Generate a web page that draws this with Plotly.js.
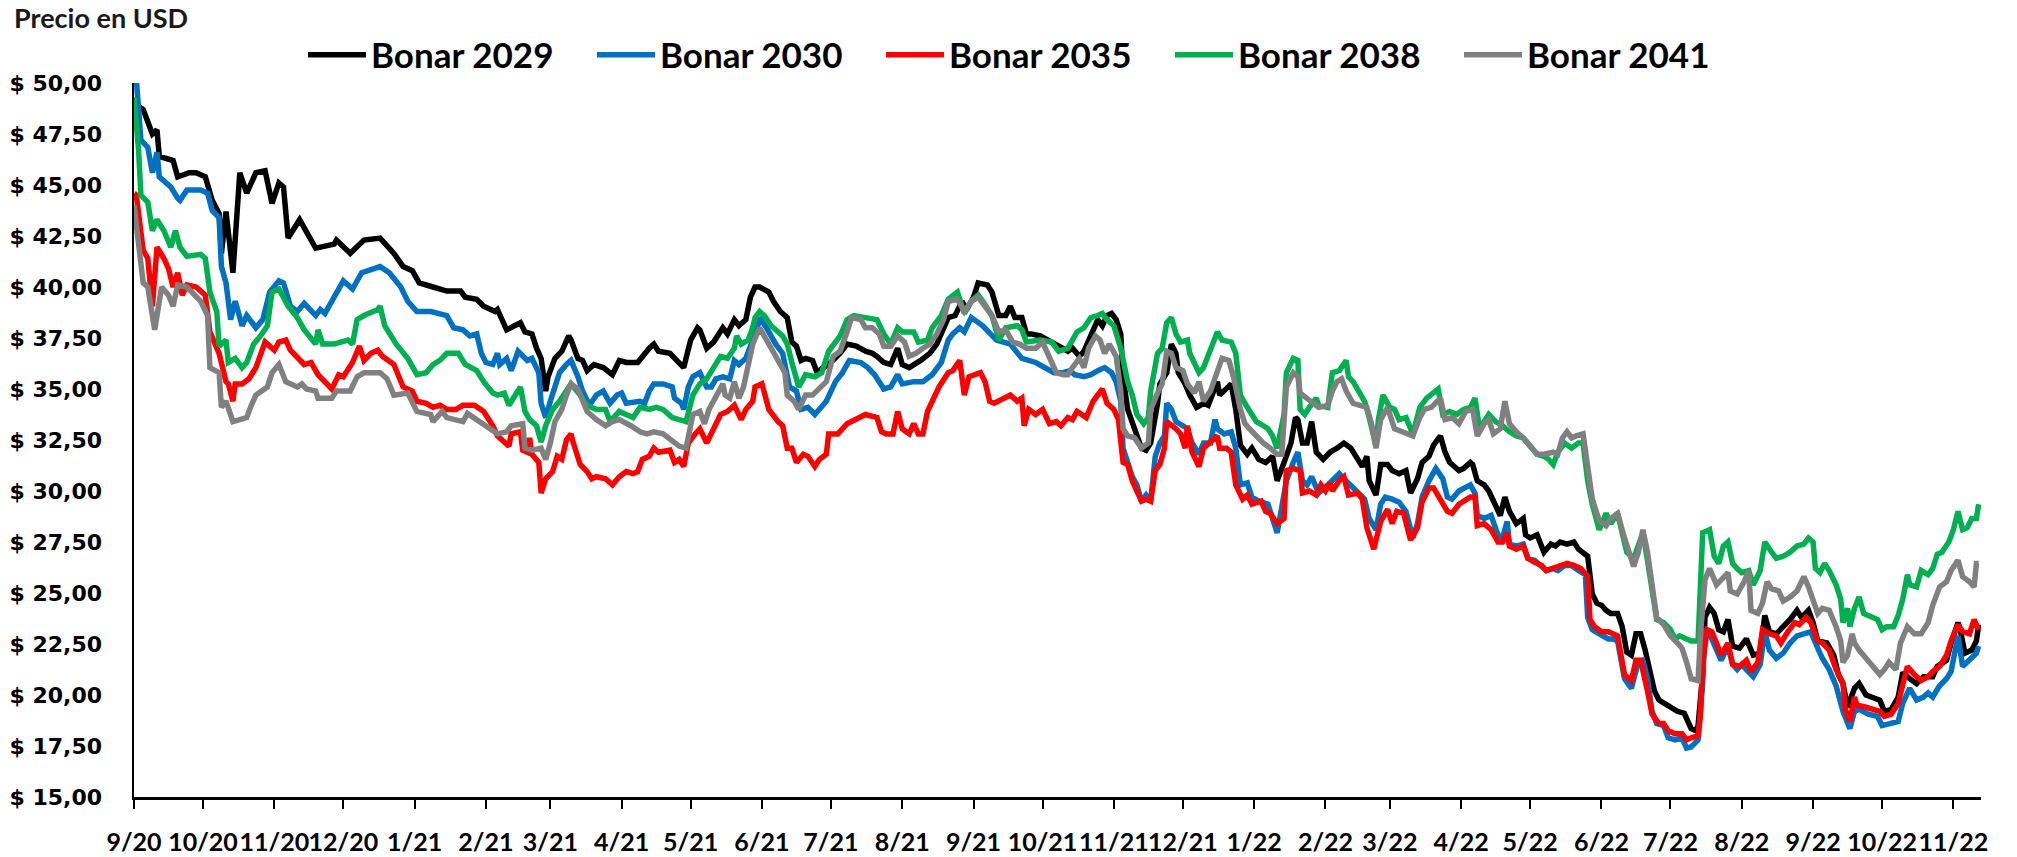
<!DOCTYPE html>
<html>
<head>
<meta charset="utf-8">
<script src="https://cdn.plot.ly/plotly-3.0.1.min.js"></script>
<style>
html,body{margin:0;padding:0;background:#ffffff;}
#chart{width:2017px;height:857px;}
</style>
</head>
<body>
<div id="chart"></div>
<script>
// ---------------- DATA ----------------
const nombres = ['Bonar 2029', 'Bonar 2030', 'Bonar 2035', 'Bonar 2038', 'Bonar 2041'];

const fechas2029 = ['2020-09-01','2020-09-05','2020-09-09','2020-09-11','2020-09-12','2020-09-18','2020-09-20','2020-09-25','2020-09-28','2020-10-02','2020-10-05','2020-10-08','2020-10-09','2020-10-11','2020-10-14','2020-10-17','2020-10-20','2020-10-22','2020-10-24','2020-10-28','2020-10-31','2020-11-03','2020-11-05','2020-11-07','2020-11-12','2020-11-19','2020-11-27','2020-11-28','2020-12-04','2020-12-10','2020-12-17','2020-12-23','2020-12-27','2020-12-31','2021-01-03','2021-01-09','2021-01-15','2021-01-21','2021-01-23','2021-01-28','2021-01-31','2021-02-05','2021-02-06','2021-02-10','2021-02-13','2021-02-16','2021-02-18','2021-02-21','2021-02-23','2021-02-25','2021-02-27','2021-02-28','2021-03-03','2021-03-06','2021-03-09','2021-03-10','2021-03-13','2021-03-15','2021-03-17','2021-03-20','2021-03-24','2021-03-28','2021-03-31','2021-04-03','2021-04-08','2021-04-10','2021-04-13','2021-04-15','2021-04-17','2021-04-22','2021-04-25','2021-04-28','2021-05-01','2021-05-04','2021-05-05','2021-05-08','2021-05-11','2021-05-15','2021-05-17','2021-05-20','2021-05-22','2021-05-25','2021-05-27','2021-05-29','2021-05-31','2021-06-04','2021-06-06','2021-06-09','2021-06-12','2021-06-14','2021-06-16','2021-06-18','2021-06-20','2021-06-23','2021-06-25','2021-06-27','2021-06-30','2021-07-05','2021-07-08','2021-07-12','2021-07-16','2021-07-19','2021-07-21','2021-07-24','2021-07-27','2021-07-30','2021-08-01','2021-08-04','2021-08-09','2021-08-13','2021-08-16','2021-08-19','2021-08-21','2021-08-24','2021-08-27','2021-08-29','2021-09-01','2021-09-03','2021-09-07','2021-09-09','2021-09-11','2021-09-12','2021-09-15','2021-09-17','2021-09-19','2021-09-22','2021-09-24','2021-09-26','2021-09-30','2021-10-03','2021-10-06','2021-10-09','2021-10-12','2021-10-14','2021-10-17','2021-10-19','2021-10-22','2021-10-25','2021-10-27','2021-10-29','2021-10-31','2021-11-02','2021-11-04','2021-11-05','2021-11-07','2021-11-09','2021-11-11','2021-11-13','2021-11-15','2021-11-17','2021-11-20','2021-11-21','2021-11-24','2021-11-26','2021-11-28','2021-11-29','2021-12-02','2021-12-04','2021-12-07','2021-12-10','2021-12-12','2021-12-14','2021-12-16','2021-12-17','2021-12-20','2021-12-22','2021-12-24','2021-12-26','2021-12-29','2021-12-31','2022-01-03','2022-01-06','2022-01-09','2022-01-11','2022-01-14','2022-01-17','2022-01-19','2022-01-20','2022-01-22','2022-01-24','2022-01-26','2022-01-28','2022-01-31','2022-02-03','2022-02-06','2022-02-09','2022-02-12','2022-02-15','2022-02-17','2022-02-19','2022-02-20','2022-02-23','2022-02-25','2022-02-28','2022-03-02','2022-03-05','2022-03-08','2022-03-10','2022-03-13','2022-03-15','2022-03-18','2022-03-20','2022-03-23','2022-03-25','2022-03-27','2022-03-31','2022-04-02','2022-04-05','2022-04-06','2022-04-08','2022-04-11','2022-04-13','2022-04-15','2022-04-18','2022-04-20','2022-04-22','2022-04-25','2022-04-28','2022-04-29','2022-05-01','2022-05-04','2022-05-07','2022-05-10','2022-05-12','2022-05-14','2022-05-17','2022-05-20','2022-05-22','2022-05-26','2022-05-28','2022-05-30','2022-06-01','2022-06-03','2022-06-05','2022-06-08','2022-06-10','2022-06-12','2022-06-14','2022-06-16','2022-06-18','2022-06-20','2022-06-22','2022-06-24','2022-06-26','2022-06-28','2022-07-02','2022-07-04','2022-07-07','2022-07-09','2022-07-10','2022-07-12','2022-07-13','2022-07-15','2022-07-16','2022-07-18','2022-07-20','2022-07-22','2022-07-24','2022-07-26','2022-07-28','2022-07-31','2022-08-03','2022-08-06','2022-08-09','2022-08-11','2022-08-13','2022-08-16','2022-08-19','2022-08-22','2022-08-25','2022-08-27','2022-08-30','2022-09-01','2022-09-03','2022-09-07','2022-09-10','2022-09-12','2022-09-14','2022-09-16','2022-09-19','2022-09-21','2022-09-24','2022-09-27','2022-09-30','2022-10-02','2022-10-05','2022-10-08','2022-10-10','2022-10-13','2022-10-16','2022-10-19','2022-10-23','2022-10-25','2022-10-29','2022-10-31','2022-11-03','2022-11-04','2022-11-06','2022-11-09','2022-11-11','2022-11-12'];
const bonar2029 = [49.0,48.7,47.5,47.7,46.4,46.2,45.4,45.6,45.6,45.4,44.25,43.6,41.65,43.7,40.7,45.6,44.6,45.1,45.6,45.7,44.1,45.1,44.9,42.4,43.3,41.9,42.1,42.3,41.65,42.3,42.4,41.65,41.0,40.8,40.2,40.0,39.8,39.8,39.5,39.4,39.06,38.8,38.9,37.9,38.1,38.25,37.8,37.7,37.0,36.5,34.9,35.6,36.5,36.85,37.6,37.4,36.5,36.4,35.9,36.2,36.05,35.7,36.4,36.3,36.3,36.6,37.0,37.2,36.85,36.75,36.4,36.05,37.4,38.0,37.9,37.0,37.3,38.0,37.7,38.4,38.1,38.4,39.5,40.0,40.0,39.75,39.3,38.8,38.5,37.3,37.1,36.4,36.5,36.4,35.8,36.0,36.2,36.75,37.2,37.1,36.85,36.75,36.6,36.3,36.2,37.0,36.2,36.05,36.4,36.75,37.2,37.9,38.5,38.6,39.3,38.9,39.5,40.2,40.1,39.75,39.06,38.6,38.6,39.06,38.5,38.5,37.7,37.7,37.6,37.4,37.2,37.0,36.85,37.0,36.6,36.85,37.7,38.4,38.1,38.6,38.7,38.4,37.7,35.6,34.0,33.3,32.7,32.1,32.0,32.35,34.3,35.25,35.8,37.2,36.75,35.8,35.25,34.7,34.1,34.3,34.2,34.7,35.36,34.7,35.0,35.25,34.0,32.25,31.8,32.1,31.55,31.4,31.7,30.5,31.4,32.35,33.6,33.5,32.35,32.35,33.4,31.9,31.55,31.9,32.1,32.35,32.1,31.55,31.2,31.7,30.5,29.8,31.3,31.3,31.0,30.85,31.0,29.9,30.6,31.4,31.7,32.25,32.7,31.9,31.4,31.0,31.1,31.4,31.3,30.5,30.3,30.0,29.5,28.8,29.7,29.0,28.4,28.65,27.85,27.7,27.85,27.0,27.4,27.3,27.5,27.4,27.5,27.15,26.8,24.95,24.5,24.4,24.15,24.0,24.0,23.35,22.1,21.95,23.0,23.0,22.2,21.25,20.2,19.75,19.6,19.3,19.2,19.1,18.6,18.35,18.25,18.5,21.0,23.8,24.3,24.0,23.2,23.1,23.7,22.4,22.3,22.75,21.95,22.05,23.9,23.1,23.0,23.35,23.7,24.15,23.8,24.15,23.55,22.65,22.55,21.95,21.0,20.56,19.4,20.33,20.56,20.0,19.9,19.75,19.2,19.3,19.9,21.1,20.8,20.56,20.9,20.9,21.4,21.7,22.55,23.55,23.2,22.05,22.2,22.65,23.45];

const fechas2030 = ['2020-09-01','2020-09-02','2020-09-04','2020-09-07','2020-09-09','2020-09-11','2020-09-12','2020-09-17','2020-09-20','2020-09-21','2020-09-24','2020-09-30','2020-10-03','2020-10-05','2020-10-08','2020-10-09','2020-10-11','2020-10-12','2020-10-13','2020-10-15','2020-10-18','2020-10-20','2020-10-24','2020-10-27','2020-10-30','2020-11-03','2020-11-05','2020-11-08','2020-11-11','2020-11-14','2020-11-19','2020-11-21','2020-11-23','2020-11-27','2020-12-01','2020-12-05','2020-12-09','2020-12-17','2020-12-21','2020-12-26','2020-12-29','2021-01-02','2021-01-08','2021-01-15','2021-01-18','2021-01-22','2021-01-25','2021-01-28','2021-01-30','2021-02-01','2021-02-04','2021-02-06','2021-02-07','2021-02-10','2021-02-12','2021-02-15','2021-02-17','2021-02-19','2021-02-21','2021-02-24','2021-02-25','2021-02-27','2021-03-01','2021-03-03','2021-03-05','2021-03-08','2021-03-10','2021-03-13','2021-03-15','2021-03-18','2021-03-21','2021-03-24','2021-03-27','2021-03-30','2021-04-01','2021-04-03','2021-04-09','2021-04-11','2021-04-13','2021-04-15','2021-04-19','2021-04-23','2021-04-24','2021-04-27','2021-04-28','2021-04-30','2021-05-02','2021-05-05','2021-05-08','2021-05-10','2021-05-12','2021-05-15','2021-05-18','2021-05-20','2021-05-22','2021-05-25','2021-05-28','2021-05-30','2021-05-31','2021-06-03','2021-06-07','2021-06-10','2021-06-13','2021-06-16','2021-06-18','2021-06-21','2021-06-24','2021-06-27','2021-06-29','2021-07-03','2021-07-06','2021-07-09','2021-07-14','2021-07-17','2021-07-20','2021-07-24','2021-07-27','2021-07-30','2021-08-01','2021-08-06','2021-08-10','2021-08-14','2021-08-18','2021-08-21','2021-08-23','2021-08-26','2021-08-28','2021-08-31','2021-09-05','2021-09-11','2021-09-17','2021-09-22','2021-09-28','2021-10-06','2021-10-10','2021-10-13','2021-10-15','2021-10-19','2021-10-22','2021-10-25','2021-10-28','2021-10-31','2021-11-02','2021-11-04','2021-11-05','2021-11-07','2021-11-09','2021-11-11','2021-11-13','2021-11-15','2021-11-17','2021-11-19','2021-11-21','2021-11-23','2021-11-24','2021-11-26','2021-11-28','2021-12-01','2021-12-03','2021-12-05','2021-12-08','2021-12-10','2021-12-13','2021-12-15','2021-12-16','2021-12-19','2021-12-22','2021-12-24','2021-12-26','2021-12-29','2021-12-31','2022-01-03','2022-01-07','2022-01-09','2022-01-11','2022-01-13','2022-01-15','2022-01-18','2022-01-20','2022-01-22','2022-01-24','2022-01-26','2022-01-29','2022-02-02','2022-02-04','2022-02-07','2022-02-10','2022-02-13','2022-02-16','2022-02-18','2022-02-20','2022-02-23','2022-02-25','2022-02-27','2022-03-02','2022-03-05','2022-03-08','2022-03-11','2022-03-13','2022-03-15','2022-03-18','2022-03-21','2022-03-24','2022-03-26','2022-03-28','2022-03-31','2022-04-05','2022-04-07','2022-04-08','2022-04-11','2022-04-14','2022-04-17','2022-04-19','2022-04-21','2022-04-22','2022-04-25','2022-04-28','2022-04-30','2022-05-03','2022-05-06','2022-05-08','2022-05-11','2022-05-13','2022-05-16','2022-05-19','2022-05-22','2022-05-25','2022-05-26','2022-05-28','2022-05-31','2022-06-04','2022-06-06','2022-06-08','2022-06-11','2022-06-14','2022-06-17','2022-06-19','2022-06-21','2022-06-23','2022-06-25','2022-06-28','2022-06-30','2022-07-03','2022-07-06','2022-07-08','2022-07-10','2022-07-13','2022-07-15','2022-07-16','2022-07-18','2022-07-21','2022-07-23','2022-07-26','2022-07-28','2022-07-30','2022-08-01','2022-08-03','2022-08-06','2022-08-09','2022-08-11','2022-08-13','2022-08-16','2022-08-19','2022-08-22','2022-08-25','2022-08-28','2022-08-31','2022-09-03','2022-09-05','2022-09-08','2022-09-11','2022-09-14','2022-09-16','2022-09-17','2022-09-19','2022-09-21','2022-09-25','2022-09-29','2022-10-01','2022-10-04','2022-10-08','2022-10-10','2022-10-13','2022-10-16','2022-10-19','2022-10-21','2022-10-23','2022-10-26','2022-10-29','2022-10-31','2022-11-03','2022-11-05','2022-11-08','2022-11-11','2022-11-12'];
const bonar2030 = [50.9,50.2,47.2,46.85,45.6,46.6,45.4,44.9,44.35,44.25,44.75,44.75,44.6,43.75,43.4,41.0,40.2,39.35,38.4,39.3,38.1,38.6,38.0,38.4,39.75,40.3,40.2,39.06,38.8,39.2,38.6,38.9,38.7,39.5,40.3,39.9,40.7,41.0,40.7,40.0,39.3,38.8,38.8,38.6,38.0,37.9,37.6,37.7,36.75,36.3,36.2,36.75,36.2,36.5,35.9,36.85,36.6,36.4,36.5,35.8,34.3,33.6,34.4,35.1,35.8,36.2,36.4,35.6,34.9,34.2,34.7,34.9,34.3,34.7,34.8,34.3,34.4,34.3,34.9,35.25,35.25,35.1,34.55,34.3,34.0,35.1,35.6,35.8,35.1,35.1,35.5,35.6,35.5,36.4,36.2,36.5,37.4,38.0,38.5,38.0,37.2,36.75,35.1,34.9,34.0,34.1,33.75,34.1,34.4,35.36,35.8,36.4,36.3,36.05,35.7,35.0,35.1,35.7,35.25,35.36,35.36,35.7,36.3,37.4,37.7,38.0,37.8,38.5,38.1,37.4,37.2,36.5,36.3,35.8,35.8,35.9,35.7,35.6,35.7,35.9,36.05,35.8,35.36,34.4,32.1,31.4,30.7,30.3,29.5,29.8,29.5,31.7,32.35,32.7,34.3,34.0,33.4,33.2,33.05,32.35,31.8,32.35,32.35,33.5,33.05,32.8,32.9,32.1,30.3,30.4,29.7,29.5,29.35,28.65,27.95,29.2,30.5,31.4,31.9,30.5,30.3,30.7,29.9,30.3,30.5,30.85,30.5,30.15,29.8,29.6,28.65,28.1,29.35,29.7,29.6,29.45,29.0,27.7,28.4,29.7,30.5,31.1,30.6,29.7,29.6,30.0,30.3,29.9,28.8,28.65,28.8,27.85,27.7,28.5,27.4,27.3,27.4,26.7,26.6,26.35,26.1,26.2,26.1,26.35,26.35,26.1,25.9,23.8,23.2,23.0,22.75,22.75,22.65,20.8,20.33,21.6,21.7,20.8,19.2,18.6,18.5,17.9,17.8,17.9,17.4,17.45,17.8,20.56,23.1,23.0,22.2,21.7,22.4,21.5,21.25,21.5,21.25,20.9,21.5,23.1,22.2,21.8,22.05,22.55,22.9,23.0,23.1,22.3,21.8,21.25,20.45,19.2,18.7,18.35,19.2,19.3,19.06,18.95,18.5,18.6,18.7,19.6,20.33,19.75,19.9,20.1,19.9,20.45,20.8,21.15,22.9,21.4,21.7,22.05,22.4];

const fechas2035 = ['2020-09-01','2020-09-02','2020-09-05','2020-09-07','2020-09-09','2020-09-11','2020-09-14','2020-09-16','2020-09-18','2020-09-20','2020-09-22','2020-09-24','2020-09-28','2020-10-02','2020-10-04','2020-10-07','2020-10-08','2020-10-11','2020-10-12','2020-10-14','2020-10-15','2020-10-18','2020-10-21','2020-10-24','2020-10-28','2020-10-30','2020-11-01','2020-11-03','2020-11-06','2020-11-08','2020-11-11','2020-11-14','2020-11-17','2020-11-20','2020-11-26','2020-11-29','2020-12-01','2020-12-05','2020-12-08','2020-12-10','2020-12-13','2020-12-16','2020-12-18','2020-12-23','2020-12-27','2020-12-31','2021-01-02','2021-01-06','2021-01-09','2021-01-12','2021-01-15','2021-01-19','2021-01-22','2021-01-27','2021-01-31','2021-02-04','2021-02-06','2021-02-09','2021-02-11','2021-02-12','2021-02-16','2021-02-17','2021-02-19','2021-02-20','2021-02-21','2021-02-24','2021-02-25','2021-02-27','2021-03-02','2021-03-04','2021-03-06','2021-03-08','2021-03-10','2021-03-11','2021-03-14','2021-03-17','2021-03-19','2021-03-21','2021-03-25','2021-03-28','2021-03-31','2021-04-03','2021-04-06','2021-04-08','2021-04-10','2021-04-13','2021-04-15','2021-04-17','2021-04-22','2021-04-24','2021-04-26','2021-04-28','2021-04-30','2021-05-03','2021-05-05','2021-05-08','2021-05-10','2021-05-14','2021-05-17','2021-05-20','2021-05-23','2021-05-25','2021-05-28','2021-05-29','2021-06-01','2021-06-04','2021-06-08','2021-06-10','2021-06-12','2021-06-14','2021-06-16','2021-06-19','2021-06-21','2021-06-24','2021-06-26','2021-06-29','2021-06-30','2021-07-04','2021-07-08','2021-07-14','2021-07-16','2021-07-21','2021-07-23','2021-07-25','2021-07-28','2021-07-30','2021-08-01','2021-08-04','2021-08-06','2021-08-08','2021-08-10','2021-08-12','2021-08-14','2021-08-17','2021-08-21','2021-08-23','2021-08-26','2021-08-28','2021-08-30','2021-09-04','2021-09-06','2021-09-08','2021-09-10','2021-09-14','2021-09-17','2021-09-20','2021-09-22','2021-09-23','2021-09-25','2021-09-28','2021-10-01','2021-10-04','2021-10-07','2021-10-09','2021-10-12','2021-10-14','2021-10-16','2021-10-20','2021-10-23','2021-10-27','2021-10-29','2021-11-01','2021-11-03','2021-11-05','2021-11-07','2021-11-09','2021-11-11','2021-11-13','2021-11-15','2021-11-17','2021-11-19','2021-11-21','2021-11-23','2021-11-24','2021-11-28','2021-11-30','2021-12-02','2021-12-03','2021-12-05','2021-12-08','2021-12-10','2021-12-14','2021-12-16','2021-12-17','2021-12-20','2021-12-22','2021-12-24','2021-12-27','2021-12-29','2021-12-31','2022-01-04','2022-01-06','2022-01-08','2022-01-11','2022-01-14','2022-01-15','2022-01-18','2022-01-21','2022-01-22','2022-01-25','2022-01-28','2022-01-30','2022-02-01','2022-02-03','2022-02-04','2022-02-07','2022-02-09','2022-02-11','2022-02-15','2022-02-17','2022-02-19','2022-02-22','2022-02-25','2022-02-28','2022-03-02','2022-03-04','2022-03-07','2022-03-10','2022-03-13','2022-03-15','2022-03-18','2022-03-20','2022-03-23','2022-03-26','2022-03-28','2022-03-31','2022-04-05','2022-04-07','2022-04-08','2022-04-11','2022-04-14','2022-04-17','2022-04-19','2022-04-21','2022-04-22','2022-04-25','2022-04-28','2022-04-30','2022-05-03','2022-05-06','2022-05-08','2022-05-11','2022-05-14','2022-05-17','2022-05-20','2022-05-23','2022-05-26','2022-05-27','2022-05-29','2022-06-01','2022-06-04','2022-06-06','2022-06-08','2022-06-11','2022-06-14','2022-06-16','2022-06-18','2022-06-21','2022-06-23','2022-06-26','2022-06-28','2022-06-30','2022-07-03','2022-07-06','2022-07-08','2022-07-10','2022-07-13','2022-07-14','2022-07-15','2022-07-17','2022-07-19','2022-07-21','2022-07-23','2022-07-26','2022-07-28','2022-07-31','2022-08-03','2022-08-05','2022-08-08','2022-08-10','2022-08-13','2022-08-16','2022-08-18','2022-08-21','2022-08-24','2022-08-26','2022-08-29','2022-08-31','2022-09-03','2022-09-05','2022-09-08','2022-09-11','2022-09-14','2022-09-15','2022-09-17','2022-09-19','2022-09-20','2022-09-24','2022-09-27','2022-09-30','2022-10-02','2022-10-05','2022-10-08','2022-10-10','2022-10-12','2022-10-15','2022-10-18','2022-10-21','2022-10-23','2022-10-26','2022-10-29','2022-10-31','2022-11-03','2022-11-05','2022-11-08','2022-11-10','2022-11-11','2022-11-12'];
const bonar2035 = [44.6,44.5,41.8,41.4,39.06,41.95,41.4,40.9,40.0,40.7,39.6,40.1,40.0,39.6,37.8,37.0,36.75,35.36,35.25,34.4,35.25,35.25,35.5,36.05,37.3,37.1,36.9,37.3,37.4,36.9,36.5,36.2,36.3,35.7,35.0,35.7,35.6,36.3,37.1,36.4,36.75,36.9,36.6,36.2,35.1,34.9,34.4,34.3,34.1,34.2,34.0,34.0,34.2,34.2,33.9,33.2,32.7,32.4,32.2,32.8,32.9,32.0,31.9,32.6,31.8,31.4,29.9,30.6,30.95,31.7,31.55,32.5,32.8,32.35,31.3,30.95,30.6,30.7,30.6,30.3,30.7,30.95,30.85,30.95,31.55,31.7,32.1,31.9,32.0,31.4,31.55,31.2,32.35,32.8,33.05,32.35,32.8,33.75,33.9,34.2,33.5,34.0,34.4,35.1,35.25,34.0,33.4,33.2,32.1,32.1,31.4,31.8,31.7,31.2,31.55,31.8,32.8,32.8,33.3,33.6,33.75,33.6,32.9,32.8,32.8,33.9,33.05,32.8,33.3,32.8,32.8,33.9,34.4,35.1,35.8,35.9,36.4,34.7,35.6,35.8,35.36,34.4,34.3,34.55,34.7,34.4,34.55,33.2,34.0,33.75,34.0,33.3,33.4,33.2,33.6,33.5,33.9,33.6,34.4,35.0,34.3,34.0,33.5,31.4,31.3,30.5,30.0,29.5,29.6,29.5,31.0,31.3,32.1,33.4,33.05,32.8,32.1,33.2,31.9,31.2,32.1,32.5,32.7,32.1,32.1,31.9,30.3,29.6,29.8,29.35,29.5,29.0,28.9,28.4,28.65,31.0,31.1,31.0,29.9,30.0,29.8,30.3,30.0,30.4,30.0,30.5,30.7,29.8,29.9,29.6,28.2,27.15,28.5,29.1,28.4,29.0,28.9,27.6,28.2,29.45,30.15,30.15,29.6,29.0,28.9,29.35,29.7,29.7,28.3,28.4,28.1,27.5,27.5,27.95,27.3,27.15,27.3,26.7,26.5,26.35,26.1,26.2,26.35,26.45,26.35,26.2,25.8,23.7,23.35,23.1,23.1,23.0,22.9,21.0,20.7,21.7,21.7,20.2,19.06,18.6,18.6,18.25,18.1,18.1,17.8,17.9,18.0,18.95,21.6,23.2,23.1,22.55,21.95,22.55,21.5,21.4,21.7,21.15,21.6,23.2,23.0,22.9,22.55,23.1,23.55,23.45,23.8,23.55,22.65,22.55,22.2,21.25,20.56,19.3,18.7,19.9,19.5,19.4,19.3,19.2,18.95,19.06,19.6,20.56,21.4,21.0,20.7,20.9,21.15,21.4,21.95,22.65,23.45,23.1,23.0,23.7,23.35,23.2];

const fechas2038 = ['2020-09-01','2020-09-03','2020-09-04','2020-09-07','2020-09-09','2020-09-11','2020-09-14','2020-09-17','2020-09-19','2020-09-21','2020-09-24','2020-09-30','2020-10-02','2020-10-04','2020-10-07','2020-10-08','2020-10-11','2020-10-12','2020-10-15','2020-10-18','2020-10-20','2020-10-23','2020-10-26','2020-10-29','2020-10-31','2020-11-03','2020-11-07','2020-11-11','2020-11-14','2020-11-19','2020-11-20','2020-11-22','2020-11-27','2020-12-03','2020-12-05','2020-12-07','2020-12-10','2020-12-16','2020-12-17','2020-12-19','2020-12-24','2020-12-29','2021-01-02','2021-01-06','2021-01-09','2021-01-12','2021-01-15','2021-01-20','2021-01-23','2021-01-25','2021-01-28','2021-01-31','2021-02-04','2021-02-06','2021-02-09','2021-02-11','2021-02-14','2021-02-16','2021-02-18','2021-02-20','2021-02-23','2021-02-25','2021-02-27','2021-03-02','2021-03-05','2021-03-08','2021-03-10','2021-03-14','2021-03-17','2021-03-21','2021-03-25','2021-03-27','2021-03-31','2021-04-03','2021-04-06','2021-04-09','2021-04-13','2021-04-16','2021-04-19','2021-04-23','2021-04-26','2021-04-29','2021-05-02','2021-05-05','2021-05-08','2021-05-10','2021-05-14','2021-05-17','2021-05-20','2021-05-21','2021-05-23','2021-05-26','2021-05-28','2021-05-29','2021-05-31','2021-06-02','2021-06-05','2021-06-10','2021-06-12','2021-06-14','2021-06-17','2021-06-20','2021-06-24','2021-06-27','2021-06-30','2021-07-05','2021-07-08','2021-07-11','2021-07-15','2021-07-21','2021-07-24','2021-07-27','2021-07-30','2021-08-01','2021-08-06','2021-08-08','2021-08-12','2021-08-14','2021-08-18','2021-08-21','2021-08-25','2021-08-28','2021-08-31','2021-09-03','2021-09-05','2021-09-09','2021-09-12','2021-09-15','2021-09-20','2021-09-22','2021-09-24','2021-09-30','2021-10-05','2021-10-08','2021-10-12','2021-10-14','2021-10-16','2021-10-19','2021-10-22','2021-10-25','2021-10-27','2021-10-29','2021-11-01','2021-11-04','2021-11-07','2021-11-09','2021-11-11','2021-11-14','2021-11-16','2021-11-17','2021-11-20','2021-11-22','2021-11-24','2021-11-26','2021-11-28','2021-11-30','2021-12-03','2021-12-04','2021-12-06','2021-12-08','2021-12-10','2021-12-13','2021-12-16','2021-12-18','2021-12-22','2021-12-24','2021-12-26','2021-12-29','2022-01-02','2022-01-05','2022-01-07','2022-01-09','2022-01-11','2022-01-14','2022-01-15','2022-01-18','2022-01-20','2022-01-21','2022-01-23','2022-01-25','2022-01-28','2022-01-29','2022-02-02','2022-02-04','2022-02-07','2022-02-10','2022-02-11','2022-02-13','2022-02-16','2022-02-18','2022-02-20','2022-02-23','2022-02-24','2022-02-26','2022-03-01','2022-03-03','2022-03-05','2022-03-08','2022-03-11','2022-03-14','2022-03-17','2022-03-19','2022-03-22','2022-03-24','2022-03-27','2022-03-30','2022-04-02','2022-04-05','2022-04-07','2022-04-09','2022-04-11','2022-04-13','2022-04-16','2022-04-19','2022-04-22','2022-04-25','2022-04-28','2022-05-01','2022-05-04','2022-05-07','2022-05-09','2022-05-11','2022-05-13','2022-05-16','2022-05-19','2022-05-22','2022-05-24','2022-05-26','2022-05-28','2022-05-31','2022-06-03','2022-06-05','2022-06-08','2022-06-10','2022-06-12','2022-06-15','2022-06-17','2022-06-19','2022-06-21','2022-06-23','2022-06-25','2022-06-28','2022-07-01','2022-07-03','2022-07-05','2022-07-08','2022-07-10','2022-07-13','2022-07-14','2022-07-15','2022-07-18','2022-07-20','2022-07-22','2022-07-24','2022-07-26','2022-07-28','2022-07-30','2022-08-01','2022-08-04','2022-08-06','2022-08-09','2022-08-11','2022-08-14','2022-08-16','2022-08-19','2022-08-22','2022-08-25','2022-08-28','2022-08-30','2022-09-01','2022-09-02','2022-09-04','2022-09-06','2022-09-08','2022-09-11','2022-09-13','2022-09-14','2022-09-16','2022-09-17','2022-09-19','2022-09-21','2022-09-23','2022-09-25','2022-09-29','2022-10-01','2022-10-03','2022-10-06','2022-10-08','2022-10-10','2022-10-12','2022-10-13','2022-10-16','2022-10-18','2022-10-21','2022-10-23','2022-10-25','2022-10-27','2022-10-30','2022-11-01','2022-11-03','2022-11-05','2022-11-07','2022-11-09','2022-11-11','2022-11-12'];
const bonar2038 = [49.3,46.7,44.5,44.15,42.76,43.3,42.76,41.95,42.76,41.95,41.5,41.6,41.4,39.75,38.8,37.1,37.4,36.3,36.5,36.05,36.3,37.2,37.6,38.1,39.75,39.9,39.06,38.5,37.9,37.2,37.9,37.2,37.2,37.4,37.2,38.4,38.6,38.9,39.06,38.1,37.2,36.5,35.7,35.8,36.2,36.4,36.75,36.75,36.2,36.05,35.9,35.36,34.8,34.7,34.8,34.2,34.8,35.1,33.9,33.5,33.2,32.4,33.2,34.0,34.4,34.9,35.25,34.7,34.2,34.0,34.0,33.4,33.9,33.75,33.6,34.1,34.0,34.1,34.0,33.6,33.5,33.4,34.7,35.25,35.5,35.9,36.6,36.5,37.0,37.6,37.2,37.4,38.0,38.5,38.8,38.6,38.1,37.6,37.2,36.3,35.1,35.7,35.6,35.8,36.85,37.6,38.4,38.6,38.5,38.4,37.7,37.2,38.0,37.8,37.8,37.3,37.4,38.0,38.6,39.4,39.75,38.7,39.3,39.6,39.3,38.6,37.4,38.0,38.1,37.9,37.3,37.4,37.3,36.85,37.0,37.4,37.8,38.0,38.5,38.6,38.7,38.4,38.1,37.0,35.36,34.7,33.75,33.3,33.6,34.9,36.75,37.0,38.25,38.5,37.7,37.3,37.4,36.75,36.2,35.8,36.05,36.85,37.8,37.4,37.3,36.75,34.7,34.1,33.4,33.2,33.05,32.7,32.1,33.75,35.8,36.5,36.4,34.0,33.75,34.1,34.55,34.2,34.1,35.8,35.9,36.4,35.6,35.36,34.8,34.4,33.6,32.2,33.5,34.7,34.1,34.0,33.5,33.6,32.8,34.1,34.55,34.7,35.0,33.75,33.9,33.75,34.0,34.1,34.55,33.05,33.4,33.75,33.4,33.2,32.9,32.7,32.6,32.2,31.8,31.7,31.55,31.3,31.9,32.35,32.1,32.35,32.35,30.5,29.35,28.1,28.9,28.4,28.9,27.95,27.0,26.7,27.3,27.95,26.6,24.95,23.7,23.55,23.2,22.75,22.9,22.75,22.65,22.65,25.2,27.95,28.1,26.8,26.45,27.3,27.5,26.45,26.2,26.0,26.1,25.4,26.1,27.5,27.0,26.7,26.8,27.0,27.3,27.4,27.7,27.5,26.2,26.0,26.45,26.1,25.4,24.7,23.55,24.25,23.35,24.25,24.8,24.0,23.9,23.7,23.2,23.35,23.35,23.9,24.7,25.9,25.4,25.3,26.1,25.9,26.2,26.9,27.0,27.5,28.1,29.0,28.1,28.2,28.65,28.65,29.35];

const fechas2041 = ['2020-09-01','2020-09-03','2020-09-05','2020-09-07','2020-09-10','2020-09-13','2020-09-16','2020-09-18','2020-09-20','2020-09-24','2020-09-28','2020-09-30','2020-10-03','2020-10-04','2020-10-08','2020-10-09','2020-10-11','2020-10-14','2020-10-17','2020-10-20','2020-10-22','2020-10-24','2020-10-29','2020-10-31','2020-11-03','2020-11-06','2020-11-11','2020-11-13','2020-11-15','2020-11-19','2020-11-20','2020-11-26','2020-11-28','2020-12-04','2020-12-07','2020-12-10','2020-12-17','2020-12-20','2020-12-23','2020-12-29','2021-01-02','2021-01-08','2021-01-09','2021-01-13','2021-01-15','2021-01-19','2021-01-22','2021-01-24','2021-01-28','2021-02-01','2021-02-06','2021-02-10','2021-02-12','2021-02-17','2021-02-18','2021-02-21','2021-02-25','2021-02-27','2021-03-01','2021-03-03','2021-03-06','2021-03-08','2021-03-10','2021-03-13','2021-03-17','2021-03-21','2021-03-25','2021-03-28','2021-03-31','2021-04-05','2021-04-09','2021-04-12','2021-04-15','2021-04-19','2021-04-23','2021-04-26','2021-04-29','2021-05-02','2021-05-05','2021-05-07','2021-05-09','2021-05-12','2021-05-15','2021-05-16','2021-05-18','2021-05-20','2021-05-22','2021-05-24','2021-05-26','2021-05-28','2021-05-31','2021-06-04','2021-06-07','2021-06-11','2021-06-12','2021-06-15','2021-06-17','2021-06-20','2021-06-23','2021-06-26','2021-06-29','2021-07-02','2021-07-05','2021-07-08','2021-07-10','2021-07-14','2021-07-16','2021-07-19','2021-07-22','2021-07-24','2021-07-27','2021-07-30','2021-08-02','2021-08-04','2021-08-07','2021-08-10','2021-08-13','2021-08-16','2021-08-19','2021-08-21','2021-08-25','2021-08-28','2021-08-31','2021-09-03','2021-09-06','2021-09-09','2021-09-12','2021-09-15','2021-09-18','2021-09-21','2021-09-24','2021-09-28','2021-10-01','2021-10-04','2021-10-07','2021-10-10','2021-10-12','2021-10-14','2021-10-17','2021-10-19','2021-10-21','2021-10-24','2021-10-26','2021-10-28','2021-10-30','2021-11-02','2021-11-04','2021-11-05','2021-11-07','2021-11-10','2021-11-13','2021-11-16','2021-11-17','2021-11-20','2021-11-22','2021-11-24','2021-11-26','2021-11-28','2021-12-01','2021-12-03','2021-12-06','2021-12-08','2021-12-10','2021-12-13','2021-12-16','2021-12-18','2021-12-21','2021-12-23','2021-12-26','2021-12-28','2021-12-30','2022-01-02','2022-01-05','2022-01-08','2022-01-11','2022-01-13','2022-01-15','2022-01-18','2022-01-20','2022-01-21','2022-01-24','2022-01-26','2022-01-29','2022-02-02','2022-02-04','2022-02-06','2022-02-08','2022-02-10','2022-02-13','2022-02-16','2022-02-19','2022-02-21','2022-02-23','2022-02-25','2022-02-28','2022-03-03','2022-03-07','2022-03-11','2022-03-14','2022-03-16','2022-03-19','2022-03-23','2022-03-25','2022-03-28','2022-03-31','2022-04-03','2022-04-06','2022-04-08','2022-04-11','2022-04-13','2022-04-15','2022-04-18','2022-04-20','2022-04-22','2022-04-25','2022-04-28','2022-05-01','2022-05-04','2022-05-07','2022-05-11','2022-05-13','2022-05-15','2022-05-17','2022-05-19','2022-05-21','2022-05-24','2022-05-26','2022-05-28','2022-05-31','2022-06-03','2022-06-05','2022-06-08','2022-06-11','2022-06-13','2022-06-15','2022-06-17','2022-06-19','2022-06-21','2022-06-23','2022-06-25','2022-06-28','2022-07-01','2022-07-04','2022-07-06','2022-07-08','2022-07-10','2022-07-13','2022-07-14','2022-07-16','2022-07-18','2022-07-21','2022-07-24','2022-07-26','2022-07-27','2022-07-30','2022-08-02','2022-08-04','2022-08-05','2022-08-08','2022-08-10','2022-08-12','2022-08-14','2022-08-17','2022-08-19','2022-08-22','2022-08-25','2022-08-28','2022-08-30','2022-09-01','2022-09-03','2022-09-05','2022-09-08','2022-09-11','2022-09-13','2022-09-14','2022-09-16','2022-09-18','2022-09-19','2022-09-21','2022-09-24','2022-09-27','2022-09-30','2022-10-02','2022-10-04','2022-10-07','2022-10-09','2022-10-12','2022-10-15','2022-10-18','2022-10-21','2022-10-23','2022-10-26','2022-10-29','2022-10-31','2022-11-03','2022-11-05','2022-11-08','2022-11-10','2022-11-11','2022-11-12'];
const bonar2041 = [44.0,41.8,40.2,40.0,37.9,40.0,39.6,39.06,40.1,40.0,39.5,39.3,38.6,36.05,35.8,34.1,34.4,33.4,33.5,33.6,34.2,34.7,35.1,35.8,36.2,35.36,35.1,35.25,35.0,34.9,34.55,34.55,34.9,34.9,35.6,35.8,35.8,35.5,34.7,34.8,33.9,33.75,33.4,33.9,33.6,33.5,33.4,33.8,33.5,33.2,32.8,32.9,33.2,33.3,32.1,32.0,32.1,31.55,32.35,33.4,34.0,34.7,35.25,35.0,33.9,33.5,33.2,33.4,33.5,33.2,32.9,32.8,32.9,32.8,32.5,32.2,32.1,33.75,33.9,33.3,34.0,34.7,35.25,34.7,34.55,35.36,34.55,35.1,36.05,37.2,38.0,37.2,36.6,35.8,34.7,34.4,34.0,34.7,34.7,35.0,35.36,36.6,36.85,37.8,38.5,38.4,38.0,38.0,37.7,37.1,37.1,37.6,37.3,36.6,36.75,37.0,37.2,37.7,38.4,39.3,39.4,38.8,39.3,39.5,39.06,38.6,37.8,37.9,37.3,37.2,37.0,37.0,37.3,36.5,35.8,35.7,35.7,36.05,36.5,36.05,37.0,37.6,37.4,36.75,37.2,36.6,34.9,33.05,32.7,32.6,32.1,32.35,34.0,34.8,35.25,36.85,36.75,36.05,35.9,35.25,34.8,35.36,34.4,34.9,35.9,36.5,36.4,35.6,34.0,33.3,33.05,32.7,32.35,32.1,31.8,31.8,35.1,35.8,35.6,34.8,34.55,34.3,34.1,34.2,34.9,35.36,35.5,34.9,34.3,34.2,34.1,33.3,32.1,33.5,34.1,33.05,32.9,32.7,33.6,34.0,34.1,34.55,33.5,33.6,33.3,33.9,34.0,32.7,33.3,33.5,32.8,33.05,34.4,33.3,32.9,32.6,32.2,31.8,31.8,31.9,31.8,32.6,32.9,32.6,32.7,32.8,31.2,29.6,28.55,28.3,28.65,28.9,27.7,26.9,26.3,27.0,28.1,27.0,25.2,23.8,23.45,22.9,22.55,22.3,21.6,20.8,20.7,22.9,25.65,26.2,25.4,25.8,26.0,25.1,24.95,25.55,26.1,24.15,24.0,24.5,25.55,25.2,25.1,24.6,24.8,25.1,25.8,25.3,24.7,24.0,24.25,24.15,23.35,22.65,21.6,21.95,23.0,22.55,22.2,21.8,21.5,21.0,21.25,21.6,21.25,22.55,23.35,23.0,23.0,23.55,24.4,25.3,25.55,26.1,26.6,25.8,25.55,25.3,26.45,26.45];

const colores = ['#000000', '#0070C0', '#FF0000', '#00B050', '#808080'];
const fechas = [fechas2029, fechas2030, fechas2035, fechas2038, fechas2041];
const valores = [bonar2029, bonar2030, bonar2035, bonar2038, bonar2041];

// ---------------- CHART ----------------
const traces = nombres.map((n, i) => ({
  type: 'scatter',
  mode: 'lines',
  name: n,
  x: fechas[i],
  y: valores[i],
  line: { color: colores[i], width: 5.5, shape: 'linear' },
  hoverinfo: 'skip'
}));

const layout = {
  width: 2017,
  height: 857,
  margin: { l: 134, r: 36, t: 83, b: 60, pad: 0 },
  paper_bgcolor: '#ffffff',
  plot_bgcolor: '#ffffff',
  separators: ',.',
  showlegend: true,
  title: {
    text: 'Precio en USD',
    xref: 'container', yref: 'container',
    x: 14 / 2017, xanchor: 'left',
    y: 1 - 19 / 857, yanchor: 'middle',
    font: { family: 'Lato, "Open Sans", sans-serif', size: 27, color: '#1a1a1a', weight: 700 }
  },
  legend: {
    orientation: 'h',
    xref: 'paper', yref: 'paper',
    x: (303 - 134) / 1847, xanchor: 'left',
    y: (797 - 55) / 714, yanchor: 'middle',
    font: { family: 'Lato, "Open Sans", sans-serif', size: 35, color: '#000000', weight: 700 },
    itemwidth: 58,
    entrywidth: 216,
    entrywidthmode: 'pixels',
    bgcolor: 'rgba(0,0,0,0)',
    borderwidth: 0,
    traceorder: 'normal'
  },
  xaxis: {
    type: 'date',
    range: ['2020-09-01', '2022-11-13'],
    tick0: '2020-09-01',
    dtick: 'M1',
    tickformat: '%-m/%y',
    tickangle: 0,
    ticks: 'outside',
    ticklen: 9,
    tickwidth: 2,
    tickcolor: '#000000',
    ticklabelstandoff: 12,
    showline: true,
    linecolor: '#000000',
    linewidth: 2.5,
    showgrid: false,
    zeroline: false,
    automargin: false,
    fixedrange: true,
    tickfont: { family: 'Lato, "Open Sans", sans-serif', size: 25, color: '#000000', weight: 700 }
  },
  yaxis: {
    range: [15, 50],
    tick0: 15,
    dtick: 2.5,
    tickformat: '.2f',
    tickprefix: '$ ',
    ticks: 'outside',
    ticklen: 25,
    tickcolor: 'rgba(0,0,0,0)',
    showline: true,
    linecolor: '#000000',
    linewidth: 2.5,
    showgrid: false,
    zeroline: false,
    automargin: false,
    fixedrange: true,
    tickfont: { family: '"DejaVu Sans", sans-serif', size: 22, color: '#000000', weight: 700 }
  }
};

Plotly.newPlot('chart', traces, layout, { staticPlot: true, displayModeBar: false });
</script>
</body>
</html>
